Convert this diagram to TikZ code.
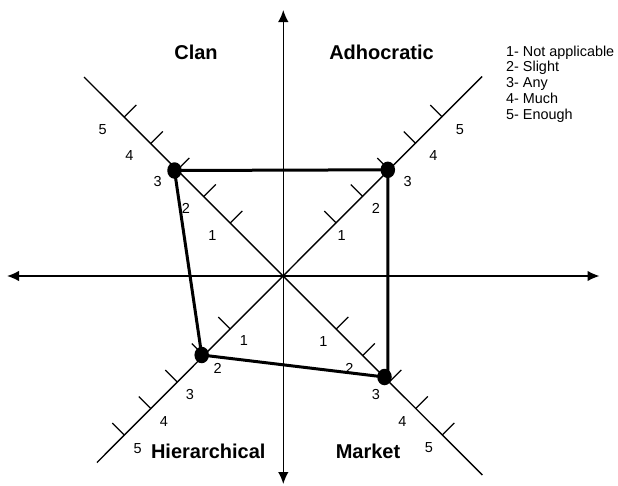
\documentclass[tikz,border=0pt]{standalone}
\usepackage{fontspec}
\setmainfont{Liberation Sans}
\usetikzlibrary{arrows.meta,shapes.geometric}

\begin{document}
\begin{tikzpicture}[x=1pt,y=-1pt,
  axis/.style={line width=1.4pt},
  tickmark/.style={line width=1.3pt},
  profile/.style={line width=3pt,line join=round},
  dot/.style={ellipse,fill=black,inner sep=0pt,minimum width=14.5pt,minimum height=16.5pt},
  lvl/.style={font=\fontsize{14.5}{16}\selectfont,inner sep=0pt},
  quad/.style={font=\fontsize{20}{24}\selectfont\bfseries,inner sep=0pt},
  legend/.style={font=\fontsize{14.4}{16}\selectfont,inner sep=0pt,anchor=base west}]
\useasboundingbox (0,0) rectangle (618,485);

% main axes
\coordinate (O) at (283.3,276);
\coordinate (W) at (7,276);
\coordinate (E) at (599.5,276);
\coordinate (N) at (283.3,10);
\coordinate (S) at (283.3,484);
\draw[axis,{Latex[length=12pt,width=10.5pt]}-{Latex[length=12pt,width=10.5pt]}] (W) -- (E);
\draw[axis,{Latex[length=12pt,width=10.5pt]}-{Latex[length=12pt,width=10.5pt]}] (N) -- (S);

% diagonal scales
\coordinate (NWend) at (84,77);
\coordinate (NEend) at (482,76.5);
\coordinate (SWend) at (97,462.5);
\coordinate (SEend) at (482.3,475);
\draw[axis] (NWend) -- (SEend);
\draw[axis] (SWend) -- (NEend);

% tick marks on the four half-axes
\foreach \sx/\sy/\px/\py in {-1/-1/1/-1, 1/-1/-1/-1, -1/1/-1/-1, 1/1/1/-1}
  \foreach \t in {53,79.5,106,132.5,159}
    \draw[tickmark] ([shift={(\sx*\t,\sy*\t)}]O) -- ++(\px*12,\py*12);

% scale numbers
\foreach \n/\x/\y in {1/212.3/235.7, 2/186/208.3, 3/157.7/181.7, 4/129.3/156, 5/102.7/129.3}
  \node[lvl] (clan\n) at (\x,\y) {\n};
\foreach \n/\x/\y in {1/341.7/236, 2/376/208.3, 3/407.7/181.7, 4/433.3/156, 5/460/129.3}
  \node[lvl] (adho\n) at (\x,\y) {\n};
\foreach \n/\x/\y in {1/244/341, 2/217.7/368.3, 3/190/395, 4/164/421.7, 5/137.7/448.3}
  \node[lvl] (hier\n) at (\x,\y) {\n};
\foreach \n/\x/\y in {1/323.3/341.7, 2/349.3/368.3, 3/376/395, 4/402.3/421.7, 5/429/447.7}
  \node[lvl] (mark\n) at (\x,\y) {\n};

% culture profile
\node[dot] (clan) at (174.5,170.5) {};
\node[dot] (adho) at (387.8,169.8) {};
\node[dot] (hier) at (201.7,355) {};
\node[dot] (mark) at (384.5,377) {};
\draw[profile] (clan.center) -- (adho.center) -- (adho.center |- mark.center)
  -- (mark.center) -- (hier.center) -- cycle;

% quadrant names
\node[quad] (clanlbl) at (196,52) {Clan};
\node[quad] (adholbl) at (381.5,52) {Adhocratic};
\node[quad] (hierlbl) at (208.3,451.7) {Hierarchical};
\node[quad] (marklbl) at (368,451.7) {Market};

% legend
\node[legend] (leg1) at (506,56) {1- Not applicable};
\node[legend] (leg2) at (506,71.8) {2- Slight};
\node[legend] (leg3) at (506,87.6) {3- Any};
\node[legend] (leg4) at (506,103.4) {4- Much};
\node[legend] (leg5) at (506,119.2) {5- Enough};
\end{tikzpicture}
\end{document}
